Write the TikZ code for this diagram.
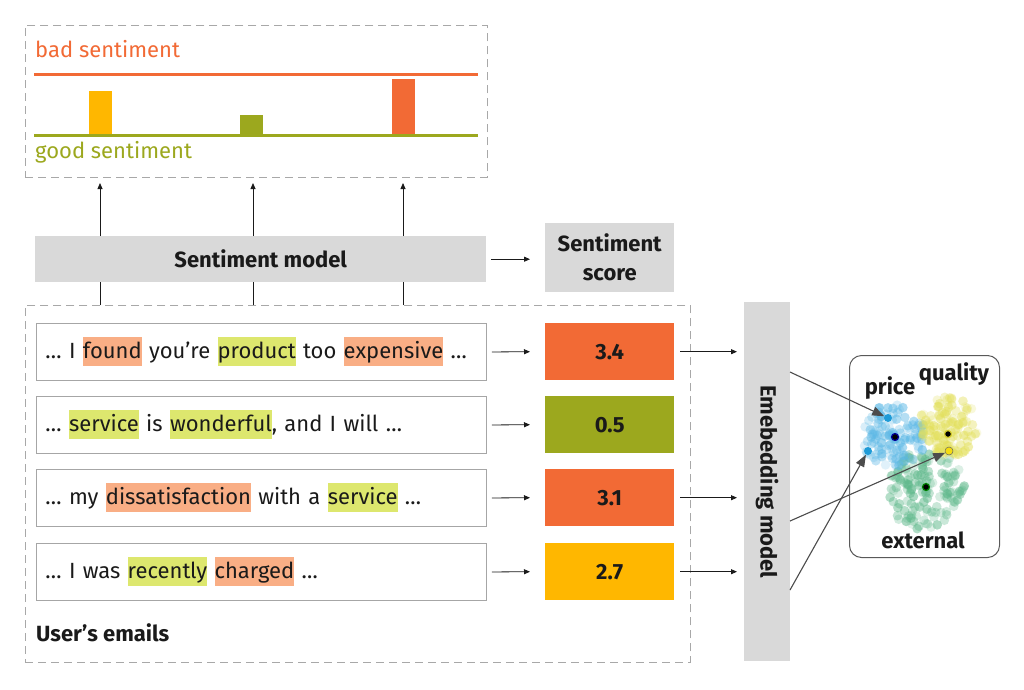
\documentclass[tikz,border=0pt]{standalone}
\usepackage{fontspec}
\setmainfont{Fira Sans}
\usetikzlibrary{arrows.meta,calc}
\definecolor{cred}{HTML}{F26A35}
\definecolor{cgreen}{HTML}{9CA81E}
\definecolor{cyellow}{HTML}{FFB700}
\definecolor{hlred}{HTML}{F9AE85}
\definecolor{hlgreen}{HTML}{DDE76E}
\definecolor{boxgray}{HTML}{D9D9D9}
\definecolor{txt}{HTML}{1A1A1A}
\definecolor{dashgray}{HTML}{A8A8A8}
\definecolor{cblue}{HTML}{5BB8E6}
\definecolor{cyel}{HTML}{E3E05A}
\definecolor{cgrn}{HTML}{5DB88A}
\definecolor{dotblue}{HTML}{1E9BD7}
\definecolor{dotyel}{HTML}{F5DC10}
\newcommand\hlR[1]{{\setlength{\fboxsep}{0pt}\colorbox{hlred}{\rule[-8pt]{0pt}{29pt}#1}}}
\newcommand\hlG[1]{{\setlength{\fboxsep}{0pt}\colorbox{hlgreen}{\rule[-8pt]{0pt}{29pt}#1}}}
\begin{document}
\begin{tikzpicture}[x=1pt,y=-1pt,
  dashbox/.style={draw=dashgray, dashed, dash pattern=on 8pt off 5pt, line width=0.9pt, inner sep=0pt, anchor=north west},
  graybox/.style={fill=boxgray, inner sep=0pt, anchor=north west, text=txt, font=\fontsize{22}{29}\selectfont\bfseries, align=center},
  emailbox/.style={draw=black!35, line width=0.9pt, fill=white, anchor=north west, minimum height=57pt, text width=432pt, inner xsep=9pt, inner ysep=0pt, align=left, text=txt, font=\fontsize{22}{26}\selectfont},
  scorebox/.style={anchor=north west, minimum width=129pt, minimum height=57pt, inner sep=0pt, text=txt, font=\fontsize{22}{26}\selectfont\bfseries},
  bar/.style={anchor=south, minimum width=23pt, inner sep=0pt},
  arr/.style={-{Triangle[length=6pt,width=5pt]}, line width=0.8pt, draw=txt},
  ln/.style={line width=0.8pt, draw=txt},
  bigarr/.style={-{Triangle[length=12pt,width=9pt]}, line width=1.1pt, draw=black!70},
  lbl/.style={font=\fontsize{22}{26}\selectfont\bfseries, text=txt, inner sep=0pt}
]
\useasboundingbox (0,0) rectangle (1024,689);
\fill[white] (0,0) rectangle (1024,689);

% top frame
\node[dashbox, minimum width=462pt, minimum height=152pt] (topframe) at (25,25) {};
\node[anchor=west, inner sep=0pt, text=cred, font=\fontsize{22}{26}\selectfont] (bad) at (35,49) {bad sentiment};
\draw[cred, line width=3pt] (34,74) -- (478,74);
\node[bar, fill=cyellow, minimum height=44pt] (bar1) at (100.5,135) {};
\node[bar, fill=cgreen, minimum height=20pt] (bar2) at (251.5,135) {};
\node[bar, fill=cred, minimum height=56pt] (bar3) at (403,135) {};
\draw[cgreen, line width=3pt] (34,135) -- (478,135);
\node[anchor=west, inner sep=0pt, text=cgreen, font=\fontsize{22}{26}\selectfont] (good) at (35,152) {good sentiment};

% sentiment model
\node[graybox, minimum width=451pt, minimum height=46pt] (smodel) at (35,236) {Sentiment model};
\node[graybox, minimum width=129pt, minimum height=69pt] (sscore) at (545,223) {Sentiment\\score};
\draw[arr] ([xshift=5pt]smodel.east) -- ([xshift=-15pt]sscore.west |- smodel.east);

\coordinate (u1) at (100,183); \coordinate (u2) at (253,183); \coordinate (u3) at (403,183);
\draw[arr] (smodel.north -| u1) -- (u1);
\draw[arr] (smodel.north -| u2) -- (u2);
\draw[arr] (smodel.north -| u3) -- (u3);

% lower frame
\node[dashbox, minimum width=665pt, minimum height=357pt] (lowframe) at (25,305) {};
\draw[ln] (lowframe.north -| u1) -- (smodel.south -| u1);
\draw[ln] (lowframe.north -| u2) -- (smodel.south -| u2);
\draw[ln] (lowframe.north -| u3) -- (smodel.south -| u3);

\node[emailbox] (m1) at (36,323) {\strut… I \hlR{found} you’re \hlG{product} too \hlR{expensive} …};
\node[emailbox] (m2) at (36,396) {\strut… \hlG{service} is \hlG{wonderful}, and I will …};
\node[emailbox] (m3) at (36,469) {\strut… my \hlR{dissatisfaction} with a \hlG{service} …};
\node[emailbox] (m4) at (36,543) {\strut… I was \hlG{recently} \hlR{charged} …};

\node[scorebox, fill=cred] (s1) at (545,323) {3.4};
\node[scorebox, fill=cgreen] (s2) at (545,396) {0.5};
\node[scorebox, fill=cred] (s3) at (545,469) {3.1};
\node[scorebox, fill=cyellow] (s4) at (545,543) {2.7};

\foreach \i in {1,2,3,4}{
  \draw[arr] ([xshift=5pt]m\i.east) -- ([xshift=-15pt]s\i.west);
}

\node[lbl, anchor=west] (users) at (36,633) {User’s emails};

% embedding model
\node[fill=boxgray, inner sep=0pt, anchor=north west, minimum width=46pt, minimum height=359pt] (emb) at (744,302) {};
\node[lbl, rotate=-90] (emblabel) at (emb.center) {Emebedding model};
\draw[arr] ([xshift=6pt]s1.east) -- ([xshift=-7pt]emb.west |- s1.east);
\draw[arr] ([xshift=6pt]s3.east) -- ([xshift=-7pt]emb.west |- s3.east);
\draw[arr] ([xshift=6pt]s4.east) -- ([xshift=-7pt]emb.west |- s4.east);

% cluster panel
\node[draw=black!65, line width=1pt, rounded corners=12pt, fill=white, anchor=north west, minimum width=150pt, minimum height=202pt, inner sep=0pt] (panel) at (849,355) {};

\pgfmathsetseed{11}
\foreach \i in {1,...,150}{
  \pgfmathsetmacro\ang{rnd*360}
  \pgfmathsetmacro\rr{40*sqrt(rnd)}
  \pgfmathsetmacro\op{0.18+0.35*rnd}
  \fill[cgrn, opacity=\op] ($(925,490)+(\ang:\rr)$) circle (4.8);
}
\foreach \i in {1,...,120}{
  \pgfmathsetmacro\ang{rnd*360}
  \pgfmathsetmacro\rr{32*sqrt(rnd)}
  \pgfmathsetmacro\op{0.18+0.35*rnd}
  \fill[cblue, opacity=\op] ($(894,436)+(\ang:\rr)$) circle (4.8);
}
\foreach \i in {1,...,120}{
  \pgfmathsetmacro\ang{rnd*360}
  \pgfmathsetmacro\rr{30*sqrt(rnd)}
  \pgfmathsetmacro\op{0.18+0.35*rnd}
  \fill[cyel, opacity=\op] ($(948,427)+(\ang:\rr)$) circle (4.8);
}

\node[circle, fill=black, draw=blue!60!black, line width=1.2pt, minimum size=7pt, inner sep=0pt] (cb) at (895,437) {};
\node[circle, fill=black, draw=yellow!80!black, line width=1.2pt, minimum size=7pt, inner sep=0pt] (cy) at (948,434) {};
\node[circle, fill=black, draw=green!50!black, line width=1.2pt, minimum size=7pt, inner sep=0pt] (cg) at (926,487) {};
\node[circle, fill=dotblue, minimum size=8pt, inner sep=0pt] (pd1) at (888,418) {};
\node[circle, fill=dotblue, minimum size=8pt, inner sep=0pt] (pd2) at (868,451) {};
\node[circle, fill=dotyel, draw=black!60, line width=0.5pt, minimum size=8pt, inner sep=0pt] (yd) at (949,451) {};

\node[lbl, anchor=base] (price) at (890,394) {price};
\node[lbl, anchor=base] (quality) at (954,380) {quality};
\node[lbl, anchor=base] (external) at (923,548) {external};

\coordinate (e1) at (790,372);
\coordinate (e2) at (790,521);
\coordinate (e3) at (790,590);
\draw[bigarr] (e1) -- (pd1);
\draw[bigarr] (e2) -- (yd);
\draw[bigarr] (e3) -- (pd2);
\end{tikzpicture}
\end{document}
